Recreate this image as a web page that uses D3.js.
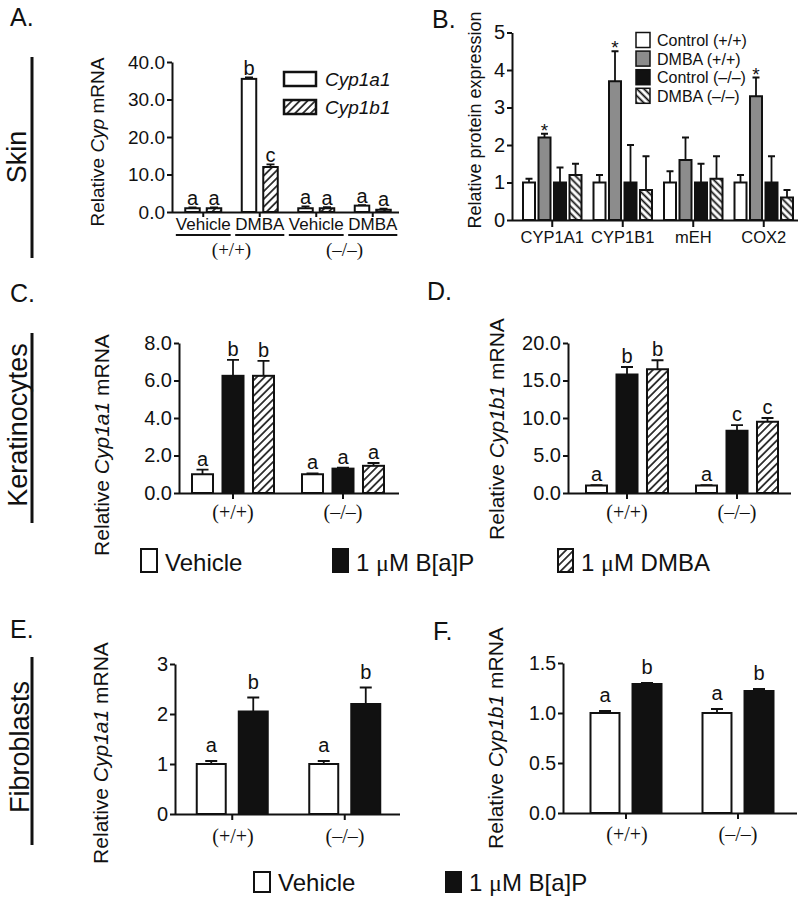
<!DOCTYPE html>
<html><head><meta charset="utf-8">
<script src="https://cdn.jsdelivr.net/npm/d3@7"></script>
<style>
body{margin:0;background:#fff}
svg{display:block}
text{font-family:Arial,"Liberation Sans",Helvetica,sans-serif;fill:#111}
</style>
</head><body>
<svg id="fig" width="800" height="897"></svg>
<script>
// ---------------- DATA ----------------
// Panel A (Skin, mRNA)
const aGroups = ["Vehicle +/+", "DMBA +/+", "Vehicle -/-", "DMBA -/-"];
const aGroupLabels = ["Vehicle", "DMBA", "Vehicle", "DMBA"];
const aGenotypes = ["(+/+)", "(–/–)"];
const aCyp1a1 = [1.0, 35.5, 1.0, 1.7];
const aCyp1a1Err = [0.2, 0.4, 0.5, 0.1];
const aCyp1a1Sig = ["a", "b", "a", "a"];
const aCyp1b1 = [1.0, 12.0, 1.0, 0.6];
const aCyp1b1Err = [0.2, 0.7, 0.3, 0.3];
const aCyp1b1Sig = ["a", "c", "a", "a"];
const aTicks = [0, 10, 20, 30, 40];

// Panel B (Skin, protein)
const bCategories = ["CYP1A1", "CYP1B1", "mEH", "COX2"];
const bSeriesNames = ["Control (+/+)", "DMBA (+/+)", "Control (–/–)", "DMBA (–/–)"];
const bControlWT = [1.0, 1.0, 1.0, 1.0];
const bControlWTErr = [0.1, 0.2, 0.3, 0.2];
const bDmbaWT = [2.2, 3.7, 1.6, 3.3];
const bDmbaWTErr = [0.1, 0.8, 0.6, 0.5];
const bDmbaWTSig = ["*", "*", "", "*"];
const bControlKO = [1.0, 1.0, 1.0, 1.0];
const bControlKOErr = [0.4, 1.0, 0.5, 0.7];
const bDmbaKO = [1.2, 0.8, 1.1, 0.6];
const bDmbaKOErr = [0.3, 0.9, 0.6, 0.2];
const bTicks = [0, 1, 2, 3, 4, 5];

// Panel C (Keratinocytes, Cyp1a1)
const kGenotypes = ["(+/+)", "(–/–)"];
const kSeriesNames = ["Vehicle", "1 μM B[a]P", "1 μM DMBA"];
const cVehicle = [1.0, 1.0];
const cVehicleErr = [0.25, 0.05];
const cVehicleSig = ["a", "a"];
const cBaP = [6.25, 1.3];
const cBaPErr = [0.85, 0.05];
const cBaPSig = ["b", "a"];
const cDMBA = [6.25, 1.45];
const cDMBAErr = [0.8, 0.15];
const cDMBASig = ["b", "a"];
const cTicks = [0, 2, 4, 6, 8];

// Panel D (Keratinocytes, Cyp1b1)
const dVehicle = [1.0, 1.0];
const dVehicleErr = [0.05, 0.05];
const dVehicleSig = ["a", "a"];
const dBaP = [15.8, 8.3];
const dBaPErr = [1.0, 0.75];
const dBaPSig = ["b", "c"];
const dDMBA = [16.5, 9.5];
const dDMBAErr = [1.2, 0.5];
const dDMBASig = ["b", "c"];
const dTicks = [0, 5, 10, 15, 20];

// Panel E (Fibroblasts, Cyp1a1)
const fSeriesNames = ["Vehicle", "1 μM B[a]P"];
const eVehicle = [1.0, 1.0];
const eVehicleErr = [0.06, 0.06];
const eVehicleSig = ["a", "a"];
const eBaP = [2.05, 2.2];
const eBaPErr = [0.28, 0.33];
const eBaPSig = ["b", "b"];
const eTicks = [0, 1, 2, 3];

// Panel F (Fibroblasts, Cyp1b1)
const fVehicle = [1.0, 1.0];
const fVehicleErr = [0.02, 0.04];
const fVehicleSig = ["a", "a"];
const fBaP = [1.29, 1.22];
const fBaPErr = [0.01, 0.02];
const fBaPSig = ["b", "b"];
const fTicks = [0, 0.5, 1.0, 1.5];

// ---------------- DRAWING ----------------
const svg = d3.select("#fig");
const defs = svg.append("defs");
function hatch(id, angle, spacing, sw) {
  const p = defs.append("pattern").attr("id", id)
    .attr("patternUnits", "userSpaceOnUse")
    .attr("width", spacing).attr("height", spacing)
    .attr("patternTransform", `rotate(${angle})`);
  p.append("rect").attr("width", spacing).attr("height", spacing).attr("fill", "#fff");
  p.append("line").attr("x1", spacing / 2).attr("x2", spacing / 2)
    .attr("y1", 0).attr("y2", spacing).attr("stroke", "#111").attr("stroke-width", sw);
}
hatch("hatchF", 45, 5.5, 1.6);
hatch("hatchB", -45, 5, 1.8);

const WHITE = "#fff", BLACK = "#111", GRAY = "#8c8c8c";

function panel(cfg) {
  const g = svg.append("g");
  const y = d3.scaleLinear().domain(cfg.yDomain).range(cfg.yRange);
  const x0 = d3.scaleBand().domain(cfg.groups).range(cfg.xRange);
  const x1 = d3.scaleBand().domain(cfg.series.map(s => s.name)).range(cfg.inner).paddingInner(cfg.padIn);

  cfg.series.forEach(s => {
    const sg = g.append("g");
    const data = cfg.groups.map((grp, i) => ({grp, v: s.values[i], e: s.errors[i], sig: s.sig ? s.sig[i] : ""}));
    sg.selectAll(".err").data(data).enter().append("path")
      .attr("d", d => {
        const cx = x0(d.grp) + x0.bandwidth() / 2 + x1(s.name) + x1.bandwidth() / 2;
        const yt = y(d.v + d.e), yb = y(d.v);
        return `M${cx},${yb}V${yt}M${cx - cfg.cap / 2},${yt}H${cx + cfg.cap / 2}`;
      })
      .attr("stroke", BLACK).attr("stroke-width", 1.8).attr("fill", "none");
    sg.selectAll(".bar").data(data).enter().append("rect")
      .attr("x", d => x0(d.grp) + x0.bandwidth() / 2 + x1(s.name))
      .attr("width", x1.bandwidth())
      .attr("y", d => y(d.v))
      .attr("height", d => y(0) - y(d.v))
      .attr("fill", s.fill).attr("stroke", BLACK).attr("stroke-width", 2);
    sg.selectAll(".sig").data(data).enter().append("text")
      .attr("x", d => x0(d.grp) + x0.bandwidth() / 2 + x1(s.name) + x1.bandwidth() / 2)
      .attr("y", d => y(d.v + d.e) - cfg.sigGap)
      .attr("text-anchor", "middle")
      .style("font-size", (cfg.sigSize || 20) + "px")
      .text(d => d.sig);
  });

  const ya = g.append("g").attr("transform", `translate(${cfg.axisX},0)`)
    .call(d3.axisLeft(y).tickValues(cfg.ticks).tickFormat(cfg.fmt).tickSize(5).tickSizeOuter(0).tickPadding(2));
  ya.select(".domain").attr("stroke", BLACK).attr("stroke-width", 2);
  ya.selectAll(".tick line").attr("stroke", BLACK).attr("stroke-width", 2);
  ya.selectAll(".tick text").style("font-size", cfg.tickSize + "px").style("font-family", "Arial, 'Liberation Sans', sans-serif").attr("fill", "#111");

  const xa = g.append("g").attr("transform", `translate(0,${y(0)})`)
    .call(d3.axisBottom(x0).tickSize(cfg.xTick || 6).tickSizeOuter(0).tickFormat(cfg.xFmt || (() => "")).tickPadding(cfg.xPad || 4));
  xa.select(".domain").attr("d", `M${cfg.axisX},0.5H${cfg.axisEnd}`).attr("stroke", BLACK).attr("stroke-width", 2);
  xa.selectAll(".tick line").attr("stroke", BLACK).attr("stroke-width", 2);
  xa.selectAll(".tick text").style("font-size", (cfg.xFont || 16) + "px").style("font-family", "Arial, 'Liberation Sans', sans-serif").attr("fill", "#111");

  if (cfg.genoAt) {
    cfg.genoAt.forEach(([label, xc]) => {
      g.append("text").attr("x", xc).attr("y", cfg.genoY).attr("text-anchor", "middle")
        .style("font-family", "'Liberation Serif', 'Times New Roman', serif").style("font-size", "20px").text(label);
    });
  }

  const yl = g.append("text")
    .attr("transform", `translate(${cfg.ylX},${cfg.ylY}) rotate(-90)`)
    .attr("text-anchor", "middle").style("font-size", cfg.ylSize + "px");
  cfg.ylParts.forEach(([t, it]) => yl.append("tspan").style("font-style", it ? "italic" : "normal").text(t));
  return {g, y, x0, x1};
}

function letter(t, x, yy) {
  svg.append("text").attr("x", x).attr("y", yy).style("font-size", "25px").text(t);
}
function rowLabel(t, x, yc, y1, y2) {
  svg.append("text").attr("transform", `translate(${x},${yc}) rotate(-90)`)
    .attr("text-anchor", "middle").style("font-size", "27px").text(t);
  svg.append("line").attr("x1", 32).attr("x2", 32).attr("y1", y1).attr("y2", y2)
    .attr("stroke", BLACK).attr("stroke-width", 3);
}

// ---- Panel A ----
letter("A.", 10, 26);
rowLabel("Skin", 26, 157, 57, 258);
const pA = panel({
  groups: aGroups,
  series: [
    {name: "Cyp1a1", values: aCyp1a1, errors: aCyp1a1Err, sig: aCyp1a1Sig, fill: WHITE},
    {name: "Cyp1b1", values: aCyp1b1, errors: aCyp1b1Err, sig: aCyp1b1Sig, fill: "url(#hatchF)"}
  ],
  xRange: [175, 401], inner: [-18, 18], padIn: 0.326,
  yDomain: [0, 40], yRange: [212, 62], ticks: aTicks, fmt: d3.format(".1f"),
  axisX: 172, axisEnd: 399, cap: 8, sigGap: 2.5, tickSize: 19, xTick: 5,
  ylX: 104, ylY: 142, ylSize: 19, ylParts: [["Relative ", false], ["Cyp", true], [" mRNA", false]]
});
aGroups.forEach((grp, i) => {
  const cx = pA.x0(grp) + pA.x0.bandwidth() / 2;
  const t = svg.append("text").attr("x", cx).attr("y", 230).attr("text-anchor", "middle")
    .style("font-size", "17px").text(aGroupLabels[i]);
  const w = t.node().getComputedTextLength();
  svg.append("line").attr("x1", cx - w / 2).attr("x2", cx + w / 2).attr("y1", 235).attr("y2", 235)
    .attr("stroke", BLACK).attr("stroke-width", 2);
});
aGenotypes.forEach((gt, i) => {
  const cx = (pA.x0(aGroups[2 * i]) + pA.x0(aGroups[2 * i + 1]) + pA.x0.bandwidth()) / 2;
  svg.append("text").attr("x", cx).attr("y", 256).attr("text-anchor", "middle")
    .style("font-family", "'Liberation Serif', 'Times New Roman', serif").style("font-size", "19px").text(gt);
});
[["Cyp1a1", WHITE, 72], ["Cyp1b1", "url(#hatchF)", 100]].forEach(([n, f, yy]) => {
  svg.append("rect").attr("x", 284).attr("y", yy).attr("width", 32).attr("height", 14)
    .attr("fill", f).attr("stroke", BLACK).attr("stroke-width", 2.5);
  svg.append("text").attr("x", 325).attr("y", yy + 14).style("font-size", "19px").style("font-style", "italic").text(n);
});

// ---- Panel B ----
letter("B.", 432, 28);
panel({
  groups: bCategories,
  series: [
    {name: bSeriesNames[0], values: bControlWT, errors: bControlWTErr, fill: WHITE},
    {name: bSeriesNames[1], values: bDmbaWT, errors: bDmbaWTErr, sig: bDmbaWTSig, fill: GRAY},
    {name: bSeriesNames[2], values: bControlKO, errors: bControlKOErr, fill: BLACK},
    {name: bSeriesNames[3], values: bDmbaKO, errors: bDmbaKOErr, fill: "url(#hatchB)"}
  ],
  xRange: [517, 799], inner: [-29.25, 29.25], padIn: 0.226,
  yDomain: [0, 5], yRange: [220, 32.5], ticks: bTicks, fmt: d3.format("d"),
  axisX: 512, axisEnd: 798, cap: 7, sigGap: -3, sigSize: 19, tickSize: 20, xTick: 7,
  xFmt: d => d, xFont: 16.5, xPad: 4,
  ylX: 481, ylY: 120, ylSize: 18, ylParts: [["Relative protein expression", false]]
});
bSeriesNames.forEach((n, i) => {
  const yy = 32.5 + i * 18.6;
  const f = [WHITE, GRAY, BLACK, "url(#hatchB)"][i];
  svg.append("rect").attr("x", 636).attr("y", yy).attr("width", 14).attr("height", 15)
    .attr("fill", f).attr("stroke", BLACK).attr("stroke-width", 1.5);
  svg.append("text").attr("x", 657).attr("y", yy + 13.5).style("font-size", "16px").text(n);
});

// ---- Panel C / D ----
letter("C.", 10, 302);
letter("D.", 427, 300);
rowLabel("Keratinocytes", 27, 425, 333, 523);
const kFills = [WHITE, BLACK, "url(#hatchF)"];
panel({
  groups: kGenotypes,
  series: [
    {name: kSeriesNames[0], values: cVehicle, errors: cVehicleErr, sig: cVehicleSig, fill: kFills[0]},
    {name: kSeriesNames[1], values: cBaP, errors: cBaPErr, sig: cBaPSig, fill: kFills[1]},
    {name: kSeriesNames[2], values: cDMBA, errors: cDMBAErr, sig: cDMBASig, fill: kFills[2]}
  ],
  xRange: [178, 398], inner: [-41, 41], padIn: 0.311,
  yDomain: [0, 8], yRange: [493, 343], ticks: cTicks, fmt: d3.format(".1f"),
  axisX: 179, axisEnd: 399, cap: 12, sigGap: 4, tickSize: 20,
  genoAt: [["(+/+)", 233], ["(–/–)", 343]], genoY: 519,
  ylX: 109, ylY: 445, ylSize: 21, ylParts: [["Relative ", false], ["Cyp1a1", true], [" mRNA", false]]
});
panel({
  groups: kGenotypes,
  series: [
    {name: kSeriesNames[0], values: dVehicle, errors: dVehicleErr, sig: dVehicleSig, fill: kFills[0]},
    {name: kSeriesNames[1], values: dBaP, errors: dBaPErr, sig: dBaPSig, fill: kFills[1]},
    {name: kSeriesNames[2], values: dDMBA, errors: dDMBAErr, sig: dDMBASig, fill: kFills[2]}
  ],
  xRange: [572, 792], inner: [-41, 41], padIn: 0.311,
  yDomain: [0, 20], yRange: [493, 343], ticks: dTicks, fmt: d3.format(".1f"),
  axisX: 568, axisEnd: 791, cap: 12, sigGap: 4, tickSize: 20,
  genoAt: [["(+/+)", 627], ["(–/–)", 737]], genoY: 519,
  ylX: 504, ylY: 429, ylSize: 21, ylParts: [["Relative ", false], ["Cyp1b1", true], [" mRNA", false]]
});
function legendItem(x, yTop, fill, label, w, h) {
  svg.append("rect").attr("x", x).attr("y", yTop).attr("width", w).attr("height", h)
    .attr("fill", fill).attr("stroke", BLACK).attr("stroke-width", 2);
  const t = svg.append("text").attr("x", x + w + 8).attr("y", yTop + h - 1).style("font-size", "24px");
  const parts = label.split("μ");
  t.append("tspan").text(parts[0]);
  if (parts.length > 1) {
    t.append("tspan").style("font-family", "'Liberation Serif', 'Times New Roman', serif").text("μ");
    t.append("tspan").text(parts[1]);
  }
}
legendItem(141, 549, kFills[0], kSeriesNames[0], 16, 23);
legendItem(333, 549, kFills[1], kSeriesNames[1], 15, 23);
legendItem(558, 549, kFills[2], kSeriesNames[2], 15, 23);

// ---- Panel E / F ----
letter("E.", 10, 638);
letter("F.", 433, 640);
rowLabel("Fibroblasts", 29, 747, 657, 845);
panel({
  groups: kGenotypes,
  series: [
    {name: fSeriesNames[0], values: eVehicle, errors: eVehicleErr, sig: eVehicleSig, fill: WHITE},
    {name: fSeriesNames[1], values: eBaP, errors: eBaPErr, sig: eBaPSig, fill: BLACK}
  ],
  xRange: [176, 401], inner: [-35.5, 35.5], padIn: 0.31,
  yDomain: [0, 3], yRange: [814, 664], ticks: eTicks, fmt: d3.format("d"),
  axisX: 175, axisEnd: 400, cap: 12, sigGap: 9, tickSize: 20,
  genoAt: [["(+/+)", 233], ["(–/–)", 345]], genoY: 843,
  ylX: 108, ylY: 753, ylSize: 21, ylParts: [["Relative ", false], ["Cyp1a1", true], [" mRNA", false]]
});
panel({
  groups: kGenotypes,
  series: [
    {name: fSeriesNames[0], values: fVehicle, errors: fVehicleErr, sig: fVehicleSig, fill: WHITE},
    {name: fSeriesNames[1], values: fBaP, errors: fBaPErr, sig: fBaPSig, fill: BLACK}
  ],
  xRange: [570, 794], inner: [-35.5, 35.5], padIn: 0.31,
  yDomain: [0, 1.5], yRange: [813, 663], ticks: fTicks, fmt: d3.format(".1f"),
  axisX: 563, axisEnd: 797, cap: 12, sigGap: 9, tickSize: 19.5,
  genoAt: [["(+/+)", 627], ["(–/–)", 738]], genoY: 841,
  ylX: 503, ylY: 738, ylSize: 21, ylParts: [["Relative ", false], ["Cyp1b1", true], [" mRNA", false]]
});
legendItem(254, 872, WHITE, fSeriesNames[0], 16, 20);
legendItem(446, 872, BLACK, fSeriesNames[1], 15, 20);
</script>
</body></html>
